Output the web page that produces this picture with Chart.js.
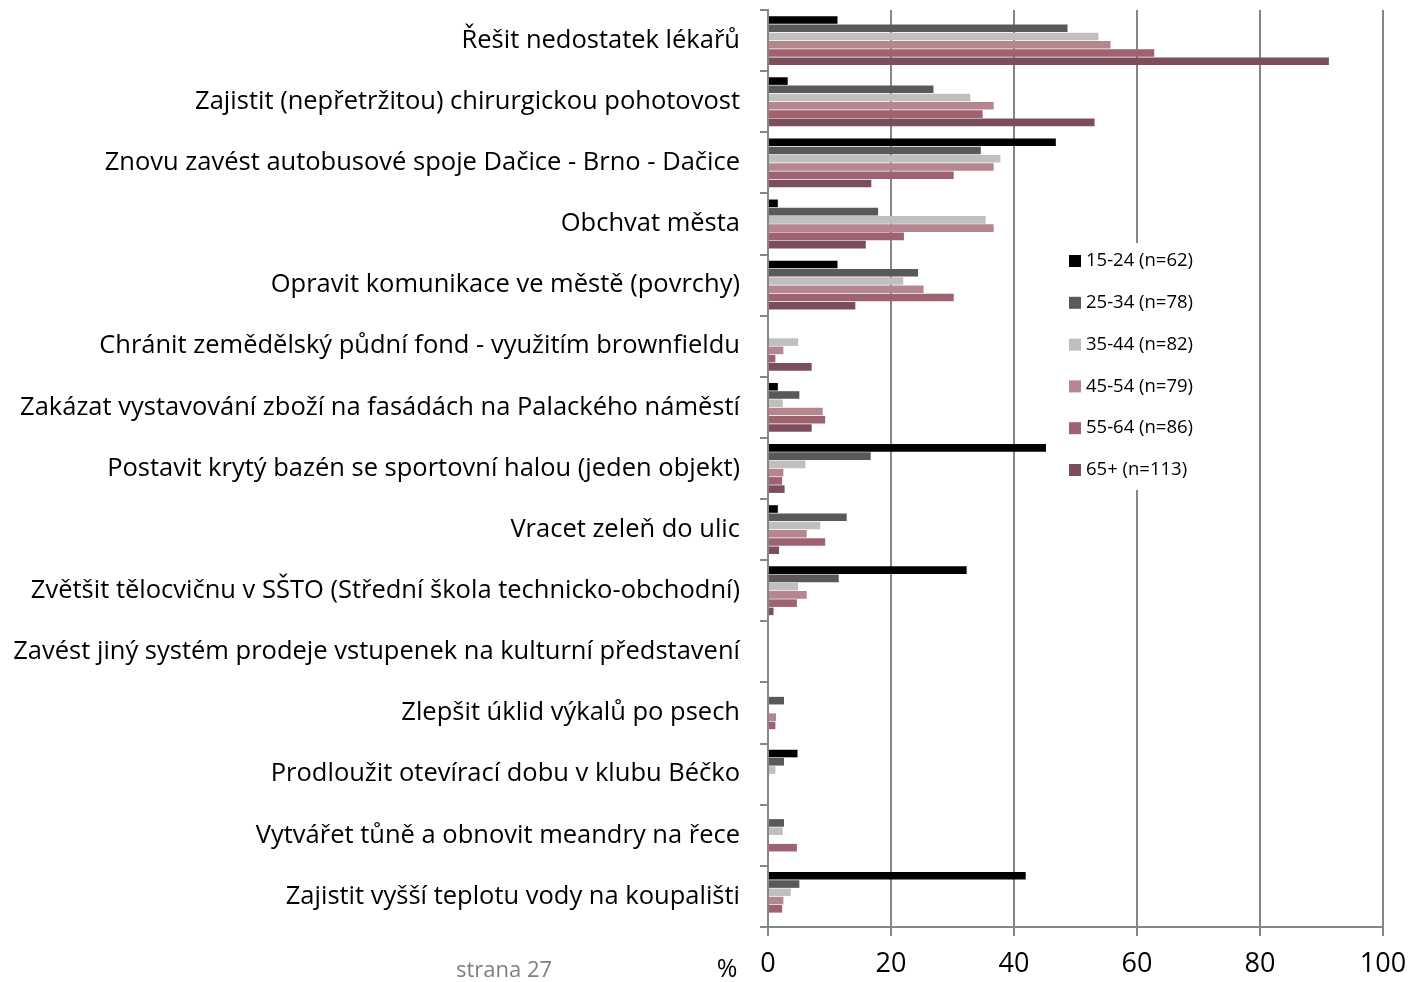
<!DOCTYPE html>
<html>
<head>
<meta charset="utf-8">
<script src="https://cdn.jsdelivr.net/npm/chart.js@4.4.1/dist/chart.umd.min.js"></script>
<style>
  body { margin: 0; background: #fff; }
  #wrap { width: 1410px; height: 982px; }
</style>
</head>
<body>
<div id="wrap"><canvas id="myChart" width="1410" height="982"></canvas></div>
<script>
// data
const categories = [
    'Řešit nedostatek lékařů',
    'Zajistit (nepřetržitou) chirurgickou pohotovost',
    'Znovu zavést autobusové spoje Dačice - Brno - Dačice',
    'Obchvat města',
    'Opravit komunikace ve městě (povrchy)',
    'Chránit zemědělský půdní fond - využitím brownfieldu',
    'Zakázat vystavování zboží na fasádách na Palackého náměstí',
    'Postavit krytý bazén se sportovní halou (jeden objekt)',
    'Vracet zeleň do ulic',
    'Zvětšit tělocvičnu v SŠTO (Střední škola technicko-obchodní)',
    'Zavést jiný systém prodeje vstupenek na kulturní představení',
    'Zlepšit úklid výkalů po psech',
    'Prodloužit otevírací dobu v klubu Béčko',
    'Vytvářet tůně a obnovit meandry na řece',
    'Zajistit vyšší teplotu vody na koupališti'
];
const seriesNames = ['15-24 (n=62)', '25-34 (n=78)', '35-44 (n=82)', '45-54 (n=79)', '55-64 (n=86)', '65+ (n=113)'];
const age1524 = [11.3, 3.2, 46.8, 1.6, 11.3, 0, 1.6, 45.2, 1.6, 32.3, 0, 0, 4.8, 0, 41.9];
const age2534 = [48.7, 26.9, 34.6, 17.9, 24.4, 0, 5.1, 16.7, 12.8, 11.5, 0, 2.6, 2.6, 2.6, 5.1];
const age3544 = [53.7, 32.9, 37.8, 35.4, 22.0, 4.9, 2.4, 6.1, 8.5, 4.9, 0, 0, 1.2, 2.4, 3.7];
const age4554 = [55.7, 36.7, 36.7, 36.7, 25.3, 2.5, 8.9, 2.5, 6.3, 6.3, 0, 1.3, 0, 0, 2.5];
const age5564 = [62.8, 34.9, 30.2, 22.1, 30.2, 1.2, 9.3, 2.3, 9.3, 4.7, 0, 1.2, 0, 4.7, 2.3];
const age65 = [91.2, 53.1, 16.8, 15.9, 14.2, 7.1, 7.1, 2.7, 1.8, 0.9, 0, 0, 0, 0, 0];
const xTicks = [0, 20, 40, 60, 80, 100];

const colors = ['#000000', '#595959', '#bfbfbf', '#b5868f', '#9e6271', '#7c4e5d'];
const allSeries = [age1524, age2534, age3544, age4554, age5564, age65];

Chart.defaults.font.family = '"Open Sans"';

// legend drawn inside the plot, on white
const sideLegend = {
    id: 'sideLegend',
    afterDraw(chart) {
        const ctx = chart.ctx;
        ctx.save();
        ctx.fillStyle = '#fff';
        ctx.fillRect(1056, 243, 150, 247);
        ctx.font = '18.5px "Open Sans"';
        ctx.textBaseline = 'middle';
        ctx.textAlign = 'left';
        chart.data.datasets.forEach((ds, i) => {
            const y = 261 + i * 41.8;
            ctx.fillStyle = ds.backgroundColor;
            ctx.fillRect(1069, y - 6, 12, 12);
            ctx.fillStyle = '#000';
            ctx.fillText(ds.label, 1086, y);
        });
        // extra texts under the axis
        ctx.textAlign = 'center';
        ctx.font = '25px "Open Sans"';
        ctx.fillStyle = '#000';
        ctx.fillText('%', 727, 970);
        ctx.font = '22px "Open Sans"';
        ctx.fillStyle = '#808080';
        ctx.fillText('strana 27', 504, 971);
        ctx.restore();
    }
};

const chart = new Chart(document.getElementById('myChart').getContext('2d'), {
    type: 'bar',
    data: {
        labels: categories,
        datasets: allSeries.map((d, i) => ({
            label: seriesNames[i],
            data: d,
            backgroundColor: colors[i],
            borderWidth: 0,
            categoryPercentage: 0.81,
            barPercentage: 0.92
        }))
    },
    options: {
        indexAxis: 'y',
        responsive: false,
        animation: false,
        layout: { padding: { top: 10, right: 27, left: 0, bottom: 0 } },
        plugins: {
            legend: { display: false },
            tooltip: { enabled: false }
        },
        scales: {
            x: {
                min: 0,
                max: 100,
                afterBuildTicks: scale => { scale.ticks = xTicks.map(v => ({ value: v })); },
                ticks: { color: '#000', font: { size: 27 }, padding: 12 },
                grid: { color: '#868686', lineWidth: 2, tickLength: 9 },
                border: { color: '#868686', width: 2 },
                afterFit: scale => {
                    scale.height = 55;
                    scale.paddingLeft = 0;
                    scale.paddingRight = 0;
                }
            },
            y: {
                grid: { drawOnChartArea: false, drawTicks: true, tickLength: 8, color: '#868686', lineWidth: 2, offset: true },
                border: { color: '#868686', width: 2 },
                ticks: { color: '#000', font: { size: 25.5 }, padding: 20, autoSkip: false },
                afterFit: scale => {
                    scale.width = 768;
                    scale.paddingTop = 0;
                    scale.paddingBottom = 0;
                }
            }
        }
    },
    plugins: [sideLegend]
});
</script>
</body>
</html>
